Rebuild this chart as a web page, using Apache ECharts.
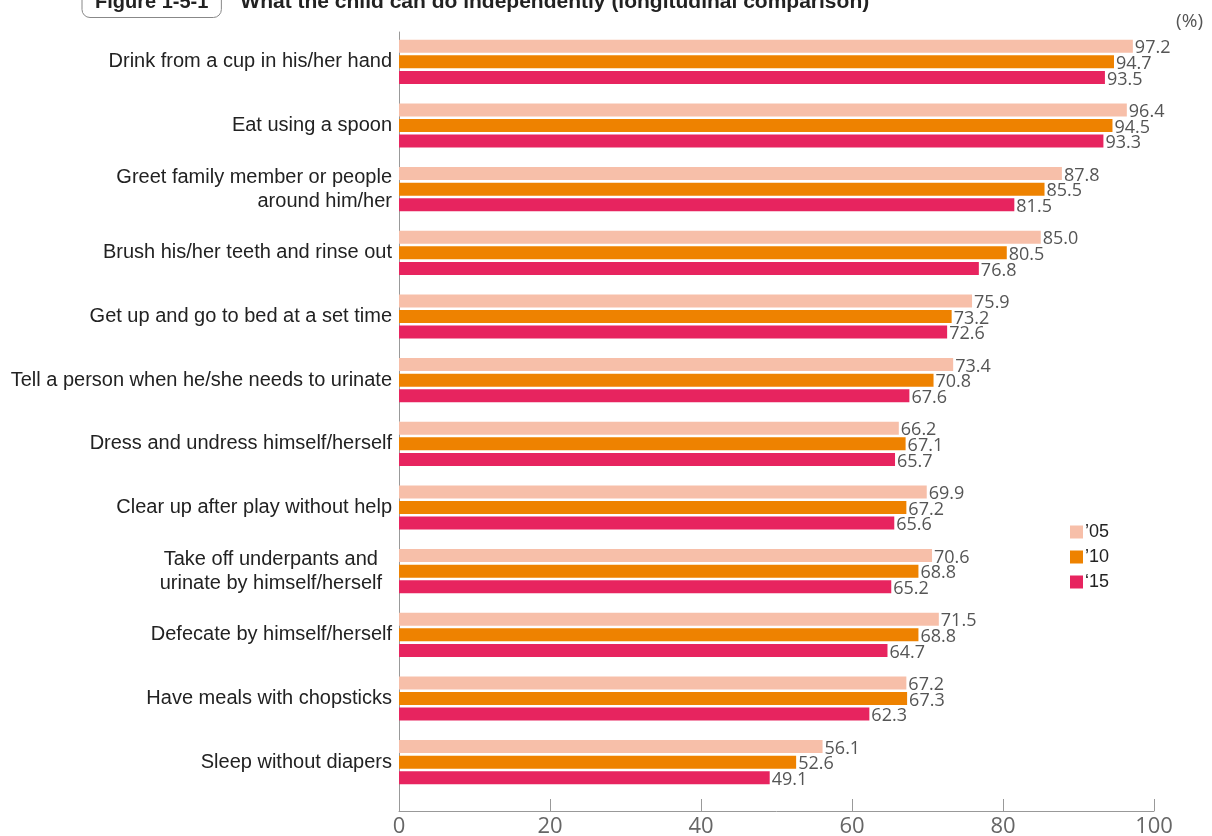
<!DOCTYPE html>
<html>
<head>
<meta charset="utf-8">
<style>
  html, body { margin: 0; padding: 0; background: #fff; }
  #chart { width: 1212px; height: 836px; }
</style>
<script src="https://cdn.jsdelivr.net/npm/echarts@6/dist/echarts.min.js"></script>
</head>
<body>
<div id="chart"></div>
<script>
// Activities, listed top to bottom
const categories = [
  'Drink from a cup in his/her hand',
  'Eat using a spoon',
  'Greet family member or people\naround him/her',
  'Brush his/her teeth and rinse out',
  'Get up and go to bed at a set time',
  'Tell a person when he/she needs to urinate',
  'Dress and undress himself/herself',
  'Clear up after play without help',
  'Take off underpants and\nurinate by himself/herself',
  'Defecate by himself/herself',
  'Have meals with chopsticks',
  'Sleep without diapers'
];

// Share of children (%) by survey year
const year05 = [97.2, 96.4, 87.8, 85.0, 75.9, 73.4, 66.2, 69.9, 70.6, 71.5, 67.2, 56.1];
const year10 = [94.7, 94.5, 85.5, 80.5, 73.2, 70.8, 67.1, 67.2, 68.8, 68.8, 67.3, 52.6];
const year15 = [93.5, 93.3, 81.5, 76.8, 72.6, 67.6, 65.7, 65.6, 65.2, 64.7, 62.3, 49.1];

const seriesNames = ['\u201905', '\u201910', '\u201815'];
const xTicks = [0, 20, 40, 60, 80, 100];

const colors = ['#F7BFA9', '#EE8200', '#E7245F'];

// Category set in a centred two-line block
const centredLabel = 'Take off underpants and\nurinate by himself/herself';

const chart = echarts.init(document.getElementById('chart'), null, { renderer: 'canvas' });

function barSeries(name, data, color) {
  return {
    name: name,
    type: 'bar',
    data: data,
    barWidth: 13,
    barGap: '20%',
    itemStyle: { color: color },
    label: {
      show: true,
      position: 'right',
      distance: 2,
      offset: [0, 2],
      color: '#555',
      fontFamily: 'Open Sans',
      fontSize: 18,
      formatter: p => p.value.toFixed(1)
    },
    silent: true
  };
}

chart.setOption({
  animation: false,
  backgroundColor: '#fff',
  title: [{
    text: '{box|Figure 1-5-1}{main|What the child can do independently (longitudinal comparison)}',
    left: 77,
    top: -15,
    textStyle: {
      rich: {
        box: {
          fontFamily: 'Liberation Sans',
          fontWeight: 'bold',
          fontSize: 20,
          lineHeight: 24,
          color: '#222',
          borderColor: '#888',
          borderWidth: 1,
          borderRadius: 8,
          padding: [6, 13, 5, 13]
        },
        main: {
          fontFamily: 'Liberation Sans',
          fontWeight: 'bold',
          fontSize: 21,
          lineHeight: 24,
          color: '#222',
          padding: [0, 0, 0, 19]
        }
      }
    }
  }, {
    text: '(%)',
    right: 4,
    top: 7,
    textStyle: { fontFamily: 'Open Sans', fontWeight: 'normal', fontSize: 19, color: '#555' }
  }],
  legend: {
    orient: 'vertical',
    left: 1065,
    top: 518,
    itemWidth: 13,
    itemHeight: 13,
    itemGap: 7,
    icon: 'rect',
    data: seriesNames,
    textStyle: { fontFamily: 'Liberation Sans', fontSize: 18, color: '#222', padding: [0, 0, 0, -3] }
  },
  grid: [
    { left: 399, right: 58, top: 30, height: 764, outerBoundsMode: 'none', containLabel: false },
    { left: 399, right: 58, top: 32, bottom: 25, outerBoundsMode: 'none', containLabel: false }
  ],
  xAxis: [{
    type: 'value',
    gridIndex: 0,
    min: 0,
    max: 100,
    interval: 20,
    offset: 17,
    axisLine: { show: true, lineStyle: { color: '#999', width: 1 } },
    axisTick: { show: true, inside: true, length: 12, lineStyle: { color: '#999' } },
    axisLabel: {
      margin: 5,
      color: '#666',
      fontFamily: 'Open Sans',
      fontSize: 22,
      formatter: v => xTicks.includes(v) ? String(v) : ''
    },
    splitLine: { show: false }
  }, {
    type: 'value',
    gridIndex: 1,
    show: false
  }],
  yAxis: [{
    type: 'category',
    gridIndex: 0,
    data: categories,
    inverse: true,
    axisLine: { show: false },
    axisTick: { show: false },
    axisLabel: {
      margin: 7,
      color: '#222',
      fontFamily: 'Liberation Sans',
      fontSize: 20,
      lineHeight: 24,
      align: 'right',
      formatter: v => v === centredLabel
        ? v.split('\n').map(line => '{ctr|' + line + '}').join('\n')
        : v,
      rich: {
        ctr: {
          align: 'center',
          color: '#222',
          fontFamily: 'Liberation Sans',
          fontSize: 20,
          lineHeight: 24,
          padding: [0, 10, 0, 0]
        }
      }
    }
  }, {
    type: 'value',
    gridIndex: 1,
    axisLine: { show: true, lineStyle: { color: '#999', width: 1 } },
    axisTick: { show: false },
    axisLabel: { show: false },
    splitLine: { show: false }
  }],
  series: [
    barSeries(seriesNames[0], year05, colors[0]),
    barSeries(seriesNames[1], year10, colors[1]),
    barSeries(seriesNames[2], year15, colors[2])
  ]
});
</script>
</body>
</html>
